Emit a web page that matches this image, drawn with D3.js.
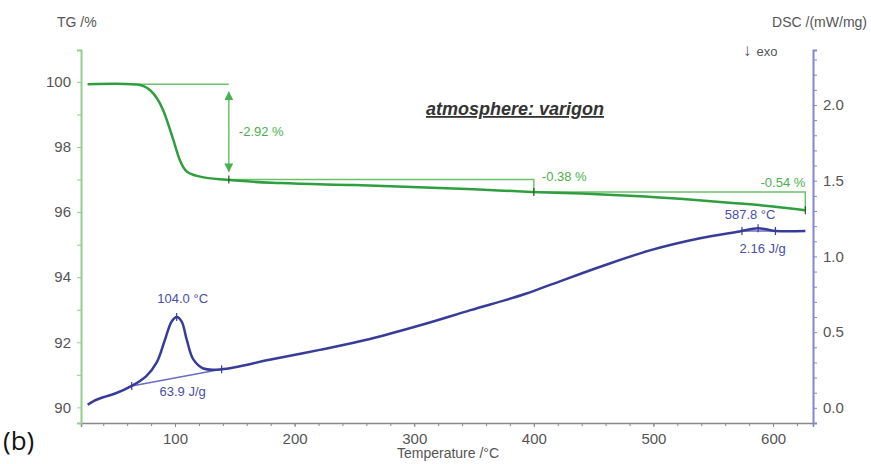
<!DOCTYPE html>
<html lang="en">
<head>
  <meta charset="utf-8" />
  <style>
    body { margin: 0; background: #fff; }
    text { font-family: "Liberation Sans", Arial, sans-serif; }
    .tick text { fill: #555; font-size: 15px; }
  </style>
</head>
<body>
<svg width="871" height="464"></svg>
<script src="https://d3js.org/d3.v7.min.js"></script>
<script>
// TG curve: [temperature °C, mass %]
var tgData = [
  [27, 99.93], [50, 99.94], [68, 99.92], [79, 99.75], [90, 99.14], [98.6, 98.22],
  [104, 97.6], [110, 97.24], [121, 97.09], [143, 96.99], [188, 96.89], [250, 96.83],
  [292, 96.78], [350, 96.70], [398, 96.62], [440, 96.57], [480, 96.50], [525, 96.40],
  [566, 96.28], [600, 96.17], [627, 96.06]
];

// DSC curve: [temperature °C, mW/mg]
var dscData = [
  [27, 0.02], [32, 0.045], [40, 0.07], [50, 0.095], [63.8, 0.145], [76, 0.21],
  [84.7, 0.30], [91.6, 0.45], [97.2, 0.57], [101.4, 0.60], [105.6, 0.57], [109.8, 0.45],
  [115.3, 0.32], [123.7, 0.26], [139, 0.255], [179, 0.317], [221, 0.383], [263, 0.455],
  [305, 0.545], [347, 0.645], [390, 0.745], [413, 0.81], [455, 0.93], [497, 1.04],
  [539, 1.12], [572, 1.165], [587.5, 1.186], [602, 1.168], [627, 1.168]
];

// mass-loss steps: [start T, end T, start level, end level, label]
var tgSteps = [
  [27, 145, 99.93, 97.00, "-2.92 %"],
  [145, 400, 97.00, 96.62, "-0.38 %"],
  [400, 627, 96.62, 96.06, "-0.54 %"]
];

// DSC peaks: [baseline start, peak, baseline end, peak label, enthalpy label]
var dscPeaks = [
  [63.8, 101.4, 139, "104.0 °C", "63.9 J/g"],
  [574, 587.5, 602, "587.8 °C", "2.16 J/g"]
];

var xTicks = [100, 200, 300, 400, 500, 600];
var tgTicks = [90, 92, 94, 96, 98, 100];
var dscTicks = [0, 0.5, 1.0, 1.5, 2.0];

var green = "#2f9e3f", greenText = "#4bb04f", greenAxis = "#8fd08f";
var blue = "#383c98", blueText = "#4a4eaa", blueAxis = "#8585d2";

var svg = d3.select("svg");

var x = d3.scaleLinear().domain([21.4, 633.4]).range([81, 813]);
var yTG = d3.scaleLinear().domain([89.52, 100.98]).range([423, 50]);
var yDSC = d3.scaleLinear().domain([-0.1, 2.363]).range([423, 50]);

// axes
var xAxis = svg.append("g").attr("transform", "translate(0,423)")
  .call(d3.axisBottom(x).tickValues(xTicks).tickSize(4).tickPadding(6));
svg.append("g").attr("transform", "translate(0,423)")
  .call(d3.axisBottom(x).tickValues(d3.range(40, 633, 20)).tickSize(3).tickFormat(""))
  .call(function(g) { g.select(".domain").remove(); g.selectAll("line").attr("stroke", "#888"); });
xAxis.select(".domain").attr("stroke", "#888").attr("stroke-width", 1.5);
xAxis.selectAll(".tick line").attr("stroke", "#888");

var leftAxis = svg.append("g").attr("transform", "translate(81,0)")
  .call(d3.axisLeft(yTG).tickValues(d3.range(90, 101, 1)).tickSize(4)
    .tickFormat(function(d) { return tgTicks.indexOf(d) >= 0 ? d : ""; }).tickPadding(6));
leftAxis.select(".domain").attr("stroke", greenAxis).attr("stroke-width", 2);
leftAxis.selectAll(".tick line").attr("stroke", greenAxis);

var rightAxis = svg.append("g").attr("transform", "translate(813,0)")
  .call(d3.axisRight(yDSC).tickValues(d3.range(-1, 24, 1).map(function(d) { return d / 10; })).tickSize(4)
    .tickFormat(function(d) { return dscTicks.indexOf(d) >= 0 ? d3.format(".1f")(d) : ""; }).tickPadding(6));
rightAxis.select(".domain").attr("stroke", blueAxis).attr("stroke-width", 2);
rightAxis.selectAll(".tick line").attr("stroke", blueAxis);

// axis titles
svg.append("text").attr("x", 57).attr("y", 27).attr("fill", "#555").style("font-size", "14px").text("TG /%");
svg.append("text").attr("x", 867).attr("y", 27).attr("text-anchor", "end").attr("fill", "#555")
  .style("font-size", "14px").text("DSC /(mW/mg)");
var exo = svg.append("text").attr("x", 743).attr("y", 56).attr("fill", "#555").style("font-size", "13px");
exo.append("tspan").style("font-size", "17px").text("↓");
exo.append("tspan").attr("dx", 5).text("exo");
svg.append("text").attr("x", 448).attr("y", 458).attr("text-anchor", "middle").attr("fill", "#555")
  .style("font-size", "14px").text("Temperature /°C");
svg.append("text").attr("x", 3).attr("y", 450).attr("fill", "#111").style("font-size", "26px")
  .style("font-family", "'Open Sans', sans-serif").text("(b)");

svg.append("text").attr("x", 515).attr("y", 115).attr("text-anchor", "middle").attr("fill", "#333")
  .style("font-size", "18px").style("font-weight", "bold").style("font-style", "italic")
  .style("text-decoration", "underline").text("atmosphere: varigon");

// TG step construction lines
svg.append("defs").append("marker").attr("id", "arr").attr("viewBox", "0 0 10 10")
  .attr("refX", 9).attr("refY", 5).attr("markerWidth", 6).attr("markerHeight", 6)
  .attr("orient", "auto-start-reverse")
  .append("path").attr("d", "M0,0L10,5L0,10z").attr("fill", greenText);

tgSteps.forEach(function(s, i) {
  var g = svg.append("g").attr("stroke", "#6cc06c").attr("stroke-width", 1.5).attr("fill", "none");
  if (i === 0) {
    g.append("line").attr("x1", x(s[0])).attr("x2", x(s[1])).attr("y1", yTG(s[2])).attr("y2", yTG(s[2]));
    g.append("line").attr("x1", x(s[1])).attr("x2", x(s[1]))
      .attr("y1", yTG(s[2]) + 8).attr("y2", yTG(s[3]) - 8)
      .attr("marker-start", "url(#arr)").attr("marker-end", "url(#arr)");
    svg.append("text").attr("x", x(s[1]) + 10).attr("y", (yTG(s[2]) + yTG(s[3])) / 2 + 4)
      .attr("fill", greenText).style("font-size", "13px").text(s[4]);
  } else {
    g.append("path").attr("d", "M" + x(s[0]) + "," + yTG(s[2]) + "H" + x(s[1]) + "V" + yTG(s[3]));
    if (i === 1) {
      svg.append("text").attr("x", x(s[1]) + 8).attr("y", yTG(s[2]) + 1)
        .attr("fill", greenText).style("font-size", "13px").text(s[4]);
    } else {
      svg.append("text").attr("x", x(s[1])).attr("y", yTG(s[2]) - 5).attr("text-anchor", "end")
        .attr("fill", greenText).style("font-size", "13px").text(s[4]);
    }
  }
});

// DSC peak baselines
dscPeaks.forEach(function(p, i) {
  var v0 = dscAt(p[0]), v1 = dscAt(p[2]);
  svg.append("line").attr("x1", x(p[0])).attr("x2", x(p[2])).attr("y1", yDSC(v0)).attr("y2", yDSC(v1))
    .attr("stroke", "#6a6cc0").attr("stroke-width", 1.5);
  [p[0], p[1], p[2]].forEach(function(t) {
    svg.append("line").attr("x1", x(t)).attr("x2", x(t))
      .attr("y1", yDSC(dscAt(t)) - 4).attr("y2", yDSC(dscAt(t)) + 4)
      .attr("stroke", blue).attr("stroke-width", 1.2);
  });
  var py = yDSC(dscAt(p[1]));
  svg.append("text").attr("x", x(p[1]) + (i ? -8 : 6)).attr("y", py - (i ? 9 : 14)).attr("text-anchor", "middle")
    .attr("fill", blueText).style("font-size", "13px").text(p[3]);
  svg.append("text").attr("x", x((p[0] + p[2]) / 2) + (i ? 4 : 6)).attr("y", yDSC((v0 + v1) / 2) + (i ? 22 : 18))
    .attr("text-anchor", "middle").attr("fill", blueText).style("font-size", "13px").text(p[4]);
});

// curves
var tgLine = d3.line().x(function(d) { return x(d[0]); }).y(function(d) { return yTG(d[1]); }).curve(d3.curveMonotoneX);
var dscLine = d3.line().x(function(d) { return x(d[0]); }).y(function(d) { return yDSC(d[1]); }).curve(d3.curveCatmullRom.alpha(0.5));

svg.append("path").datum(tgData).attr("d", tgLine).attr("fill", "none").attr("stroke", green).attr("stroke-width", 2.5);
svg.append("path").datum(dscData).attr("d", dscLine).attr("fill", "none").attr("stroke", blue).attr("stroke-width", 2.5);

// TG step markers
tgSteps.forEach(function(s) {
  svg.append("line").attr("x1", x(s[1])).attr("x2", x(s[1]))
    .attr("y1", yTG(s[3]) - 4).attr("y2", yTG(s[3]) + 4).attr("stroke", "#225522").attr("stroke-width", 1.2);
});

function dscAt(t) {
  for (var i = 1; i < dscData.length; i++) {
    if (dscData[i][0] >= t) {
      var a = dscData[i - 1], b = dscData[i];
      return a[1] + (b[1] - a[1]) * (t - a[0]) / (b[0] - a[0]);
    }
  }
  return dscData[dscData.length - 1][1];
}
</script>
</body>
</html>
